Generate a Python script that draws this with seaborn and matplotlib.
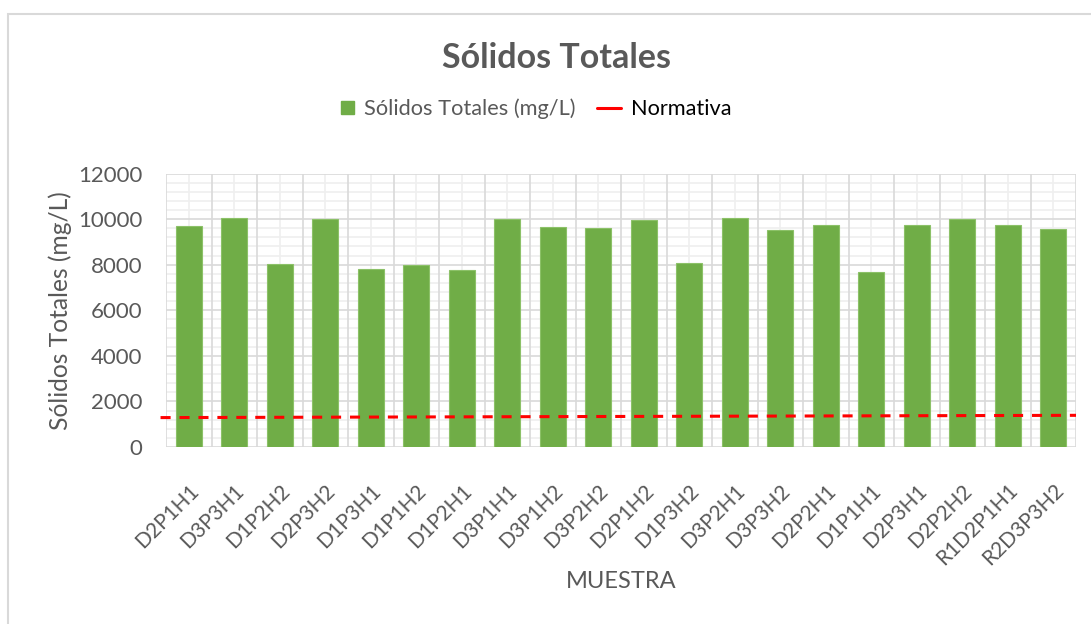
import matplotlib
matplotlib.use("Agg")
import matplotlib.pyplot as plt
from matplotlib.patches import Patch, Rectangle
from matplotlib.lines import Line2D
from matplotlib.legend_handler import HandlerPatch
import seaborn as sns
import pandas as pd
import numpy as np

# Sample codes and measured total solids (mg/L)
muestras = ["D2P1H1", "D3P3H1", "D1P2H2", "D2P3H2", "D1P3H1", "D1P1H2", "D1P2H1",
            "D3P1H1", "D3P1H2", "D3P2H2", "D2P1H2", "D1P3H2", "D3P2H1", "D3P3H2",
            "D2P2H1", "D1P1H1", "D2P3H1", "D2P2H2", "R1D2P1H1", "R2D3P3H2"]
solidos = [9700, 10040, 8010, 9990, 7800, 7990, 7750,
           10000, 9640, 9590, 9960, 8070, 10060, 9520,
           9720, 7680, 9720, 10000, 9740, 9580]
# Reference limit line (start and end of the plotted segment)
normativa = [1290, 1390]
ticks_y = [0, 2000, 4000, 6000, 8000, 10000, 12000]

GREEN = "#70AD47"
GRAY_TXT = "#595959"
GRID_MAJ = "#D9D9D9"
GRID_MIN = "#EFEFEF"

sns.set_theme(style="white")
plt.rcParams["font.family"] = ["Lato", "DejaVu Sans"]

df = pd.DataFrame({"Muestra": muestras, "Solidos": solidos})

W, H = 1091, 624
fig = plt.figure(figsize=(W / 100, H / 100), dpi=100)
ax = fig.add_axes([166 / W, 1 - 447 / H, (1076 - 166) / W, (447 - 173.5) / H])

sns.barplot(data=df, x="Muestra", y="Solidos", color=GREEN, width=0.57,
            saturation=1, edgecolor="#8CC168", linewidth=0.8, ax=ax, zorder=3)

n = len(muestras)
ax.set_xlim(-0.5, n - 0.5)
ax.set_ylim(ticks_y[0], ticks_y[-1])
ax.set_yticks(ticks_y)
ax.set_yticklabels([str(t) for t in ticks_y])

# Grid: major lines at category boundaries and every 2000, minor lines in between
for xb in np.arange(-0.5, n, 1.0):
    ax.axvline(xb, color=GRID_MAJ, lw=1.2, zorder=1)
for xc in np.arange(n):
    ax.axvline(xc, color=GRID_MIN, lw=1.2, zorder=0.5)
for yv in np.arange(0, 12001, 400):
    if yv % 2000:
        ax.axhline(yv, color=GRID_MIN, lw=1.2, zorder=0.5)
for yv in ticks_y:
    ax.axhline(yv, color=GRID_MAJ, lw=1.2, zorder=1)

for s in ax.spines.values():
    s.set_visible(False)
ax.tick_params(axis="both", which="both", length=0)

# Limit line across the full plot width
ax.plot([-0.62, n - 0.5], normativa, color="#FF0000", lw=2.2,
        linestyle=(0, (3.3, 2.9)), zorder=4, clip_on=False)

ax.set_xticks(np.arange(n))
ax.set_xticklabels(muestras, rotation=45, ha="right", va="top",
                   rotation_mode="anchor", fontsize=15, color=GRAY_TXT)
ax.tick_params(axis="x", pad=24)
ax.tick_params(axis="y", labelsize=16, labelcolor=GRAY_TXT, pad=17)

ax.set_xlabel("MUESTRA", fontsize=17, color=GRAY_TXT, va="center")
ax.xaxis.set_label_coords(621 / W, 1 - 582 / H, transform=fig.transFigure)
ax.set_ylabel("Sólidos Totales (mg/L)", fontsize=17.7, color=GRAY_TXT, va="center")
ax.yaxis.set_label_coords(60 / W, 1 - 310.5 / H, transform=fig.transFigure)

fig.text(556 / W, 1 - 58 / H, "Sólidos Totales", ha="center", va="center",
         fontsize=24.5, fontweight="bold", color=GRAY_TXT)


def square_handle(legend, orig_handle, xdescent, ydescent, width, height, fontsize):
    side = 13 * 72 / 100
    return Rectangle((-xdescent + width - side, -ydescent + (height - side) / 2),
                     side, side)


handles = [Patch(facecolor=GREEN, edgecolor=GREEN),
           Line2D([0], [0], color="#FF0000", lw=2.2)]
leg = fig.legend(handles, ["Sólidos Totales (mg/L)", "Normativa"], ncol=2,
                 loc="center", bbox_to_anchor=(531 / W, 1 - 109 / H),
                 frameon=False, fontsize=15.7, handlelength=1.1, handleheight=0.7,
                 handletextpad=0.45, columnspacing=1.0,
                 handler_map={Patch: HandlerPatch(patch_func=square_handle)})
leg.get_texts()[0].set_color(GRAY_TXT)
leg.get_texts()[1].set_color("black")

# Chart frame
fig.patches.append(Rectangle((8 / W, -0.05), 1.2, 1 - 14 / H + 0.05,
                             transform=fig.transFigure, fill=False,
                             edgecolor="#D9D9D9", lw=1.5))

fig.savefig("out.png", dpi=100)
